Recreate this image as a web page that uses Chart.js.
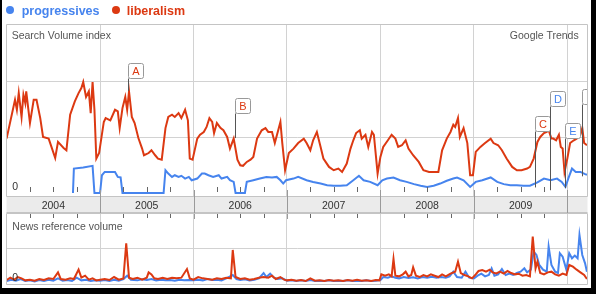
<!DOCTYPE html>
<html lang="en">
<head>
<meta charset="UTF-8">
<title>progressives vs liberalism - Google Trends</title>
<style>
    html, body {
        margin: 0;
        padding: 0;
        background: #fff;
    }
    body {
        position: relative;
        width: 596px;
        height: 294px;
        overflow: hidden;
        font-family: "Liberation Sans", Arial, sans-serif;
    }
    canvas {
        position: absolute;
        left: 0;
        top: 0;
    }
    .frame {
        position: absolute;
        left: 0;
        top: 0;
        width: 596px;
        height: 294px;
        box-sizing: border-box;
        border-left: 2px solid #000;
        border-right: 5px solid #000;
        border-bottom: 6px solid #000;
        z-index: 5;
    }
    .txt {
        position: absolute;
        line-height: 1;
        white-space: nowrap;
        z-index: 3;
    }
    .legend {
        font-size: 12.5px;
        font-weight: bold;
        top: 4.6px;
    }
    .dot {
        position: absolute;
        top: 6px;
        width: 8px;
        height: 8px;
        border-radius: 50%;
        z-index: 3;
    }
    .small {
        font-size: 10.5px;
        color: #555;
    }
</style>
<script src="https://cdn.jsdelivr.net/npm/chart.js"></script>
</head>
<body>
    <span class="dot" style="left:6.3px; background:#4684ee"></span>
    <span class="txt legend" style="left:21.7px; color:#4684ee">progressives</span>
    <span class="dot" style="left:112px; background:#dc3912"></span>
    <span class="txt legend" style="left:126.7px; color:#dc3912">liberalism</span>

    <span class="txt small" style="left:11.7px; top:30.3px">Search Volume index</span>
    <span class="txt small" style="right:17.3px; top:30.3px">Google Trends</span>
    <span class="txt small" style="left:12.3px; top:181.3px; color:#333">0</span>
    <span class="txt small" style="left:12.3px; top:220.6px">News reference volume</span>
    <span class="txt small" style="left:12.3px; top:272.3px; color:#333">0</span>

    <canvas id="searchChart" width="596" height="294"></canvas>
    <canvas id="newsChart" width="596" height="294"></canvas>
    <div class="frame"></div>

<script>
// ---- data (dates as decimal years) ----
const yearLabels = ['2004', '2005', '2006', '2007', '2008', '2009'];
const firstYear = 2004;
const lastDate = 2010.217;

// search volume index: liberalism
const libDates = [
    2004.00,2004.09,2004.11,2004.13,2004.16,2004.18,2004.20,2004.21,2004.25,2004.29,2004.32,2004.36,2004.39,2004.45,2004.48,2004.52,2004.55,2004.61,2004.64,2004.68,2004.73,2004.77,2004.80,2004.82,2004.85,2004.88,2004.90,2004.92,2004.94,2004.96,2004.99,
    2005.04,2005.06,2005.11,2005.16,2005.19,2005.21,2005.24,2005.27,2005.29,2005.31,2005.34,2005.37,2005.41,2005.45,2005.47,2005.52,2005.55,2005.59,2005.62,2005.66,2005.70,2005.73,2005.77,2005.80,2005.84,2005.87,2005.91,2005.94,2005.96,2005.99,
    2006.04,2006.07,2006.11,2006.14,2006.17,2006.20,2006.22,2006.25,2006.29,2006.32,2006.36,2006.39,2006.43,2006.47,2006.50,2006.53,2006.57,2006.61,2006.64,2006.68,2006.73,2006.77,2006.80,2006.84,2006.87,2006.93,2006.95,2006.98,
    2007.02,2007.07,2007.12,2007.18,2007.21,2007.25,2007.28,2007.32,2007.36,2007.39,2007.45,2007.50,2007.55,2007.59,2007.64,2007.68,2007.71,2007.74,2007.78,2007.80,2007.84,2007.87,2007.91,2007.93,2007.97,
    2008.00,2008.03,2008.08,2008.12,2008.16,2008.19,2008.23,2008.27,2008.30,2008.35,2008.41,2008.46,2008.52,2008.57,2008.62,2008.66,2008.71,2008.75,2008.78,2008.80,2008.83,2008.85,2008.89,2008.93,2008.96,2008.99,
    2009.02,2009.07,2009.12,2009.18,2009.21,2009.26,2009.30,2009.35,2009.41,2009.46,2009.51,2009.57,2009.60,2009.64,2009.68,2009.71,2009.75,2009.78,2009.80,2009.83,2009.85,2009.88,2009.91,2009.93,2009.95,2009.97,2010.00,2010.03,2010.07,2010.10,2010.14,2010.16,2010.18,2010.21
];
const libValues = [
    0.98,1.68,1.50,1.80,1.37,1.77,1.62,1.83,1.26,1.68,1.68,1.35,1.01,0.98,0.83,0.63,0.92,0.81,0.77,1.41,1.65,1.80,1.89,2.00,1.73,1.83,1.44,2.00,1.50,0.62,0.72,
    1.28,1.35,1.31,1.50,1.47,1.17,1.53,1.73,1.50,1.83,1.37,1.26,0.99,0.80,0.68,0.72,0.77,0.68,0.62,0.60,1.17,1.37,1.41,1.37,1.44,1.35,1.50,1.31,0.62,0.60,
    0.98,1.05,1.10,1.19,1.35,1.28,1.08,1.26,1.17,1.13,1.01,0.80,0.98,0.60,0.50,0.49,0.56,0.60,0.65,0.98,1.13,1.17,1.10,1.10,0.90,1.28,0.90,0.41,
    0.72,0.80,0.90,0.98,0.90,0.77,0.95,1.10,0.83,0.62,0.47,0.41,0.44,0.38,0.53,0.80,0.95,1.08,1.13,0.98,1.05,0.83,1.10,1.05,0.35,
    0.65,0.83,0.95,1.05,0.98,0.83,0.86,0.95,0.80,0.68,0.56,0.41,0.38,0.38,0.38,0.77,0.98,1.10,1.23,1.19,1.35,1.01,1.17,0.90,0.32,0.32,
    0.74,0.83,0.90,0.98,0.90,0.86,0.77,0.62,0.47,0.41,0.41,0.44,0.47,0.62,0.92,1.01,1.08,1.10,1.13,0.98,0.98,0.95,1.05,0.83,0.80,0.38,0.62,0.90,0.95,0.98,1.05,1.17,0.90,0.86
];

// search volume index: progressives (no data before autumn 2004)
const progDates = [
    2004.71,2004.72,2004.82,2004.92,2004.94,2005.00,2005.02,2005.05,2005.16,2005.19,2005.22,2005.24,2005.68,2005.70,2005.73,2005.77,2005.80,2005.84,2005.87,2005.91,2005.95,2005.98,
    2006.04,2006.09,2006.12,2006.16,2006.21,2006.27,2006.30,2006.36,2006.39,2006.43,2006.45,2006.55,2006.57,2006.64,2006.71,2006.78,2006.84,2006.89,2006.93,2006.96,2006.99,
    2007.07,2007.12,2007.21,2007.28,2007.36,2007.43,2007.50,2007.57,2007.64,2007.71,2007.77,2007.82,2007.89,2007.97,
    2008.02,2008.07,2008.14,2008.21,2008.28,2008.36,2008.43,2008.50,2008.57,2008.64,2008.71,2008.78,2008.82,2008.89,2008.96,
    2009.02,2009.09,2009.18,2009.25,2009.32,2009.39,2009.46,2009.53,2009.60,2009.68,2009.75,2009.82,2009.89,2009.94,2009.98,2010.01,2010.05,2010.09,2010.14,2010.19,2010.21
];
const progValues = [
    0,0.44,0.46,0.49,0,0,0.32,0.38,0.38,0.29,0.28,0,0,0.41,0.35,0.29,0.32,0.29,0.31,0.26,0.29,0.23,
    0.26,0.35,0.35,0.32,0.29,0.32,0.26,0.29,0.23,0.20,0,0,0.20,0.23,0.26,0.29,0.28,0.29,0.23,0.17,0.23,
    0.26,0.29,0.23,0.20,0.17,0.14,0.13,0.13,0.14,0.23,0.31,0.23,0.20,0.14,
    0.23,0.26,0.28,0.23,0.20,0.16,0.13,0.11,0.13,0.17,0.22,0.26,0.28,0.23,0.11,
    0.20,0.23,0.28,0.20,0.16,0.14,0.14,0.13,0.13,0.19,0.26,0.23,0.26,0.20,0.11,0.26,0.44,0.38,0.38,0.34,0.33
];

// news reference volume: liberalism
const libNewsDates = [
    2004.00,2004.04,2004.08,2004.12,2004.16,2004.20,2004.25,2004.30,2004.35,2004.40,2004.45,2004.50,2004.55,2004.58,2004.63,2004.68,2004.72,2004.77,2004.80,2004.84,2004.88,2004.92,2004.96,
    2005.00,2005.05,2005.10,2005.15,2005.20,2005.25,2005.28,2005.31,2005.35,2005.40,2005.45,2005.50,2005.52,2005.55,2005.58,2005.62,2005.67,2005.72,2005.77,2005.82,2005.87,2005.93,2005.96,
    2006.00,2006.05,2006.10,2006.15,2006.20,2006.25,2006.30,2006.35,2006.40,2006.42,2006.45,2006.50,2006.55,2006.60,2006.65,2006.70,2006.75,2006.80,2006.84,2006.88,2006.93,2006.97,
    2007.00,2007.05,2007.10,2007.15,2007.20,2007.25,2007.30,2007.35,2007.40,2007.45,2007.50,2007.55,2007.60,2007.65,2007.70,2007.75,2007.80,2007.85,2007.90,2007.95,2007.99,
    2008.01,2008.05,2008.09,2008.12,2008.14,2008.16,2008.20,2008.24,2008.27,2008.30,2008.33,2008.35,2008.38,2008.42,2008.46,2008.50,2008.54,2008.58,2008.62,2008.66,2008.70,2008.75,2008.80,2008.83,2008.86,2008.90,2008.94,2008.98,
    2009.02,2009.05,2009.09,2009.13,2009.17,2009.20,2009.24,2009.28,2009.32,2009.36,2009.40,2009.44,2009.48,2009.52,2009.56,2009.60,2009.63,2009.66,2009.68,2009.71,2009.75,2009.79,2009.83,2009.87,2009.91,2009.95,2009.99,2010.02,2010.06,2010.10,2010.14,2010.18,2010.21
];
const libNewsValues = [
    0.05,0.12,0.06,0.14,0.10,0.04,0.06,0.03,0.08,0.05,0.10,0.08,0.28,0.08,0.06,0.10,0.08,0.36,0.12,0.18,0.06,0.10,0.04,
    0.06,0.08,0.05,0.14,0.06,0.10,1.15,0.12,0.08,0.12,0.06,0.12,0.28,0.22,0.10,0.08,0.12,0.08,0.12,0.10,0.12,0.38,0.10,
    0.06,0.14,0.10,0.08,0.06,0.10,0.08,0.12,0.10,0.95,0.14,0.08,0.10,0.06,0.08,0.12,0.14,0.12,0.18,0.08,0.14,0.06,
    0.04,0.06,0.03,0.05,0.02,0.10,0.03,0.04,0.02,0.05,0.03,0.04,0.02,0.05,0.03,0.06,0.03,0.04,0.02,0.05,0.04,
    0.22,0.18,0.22,0.16,0.68,0.18,0.16,0.22,0.30,0.16,0.20,0.43,0.18,0.14,0.20,0.16,0.22,0.18,0.14,0.22,0.16,0.24,0.30,0.60,0.26,0.20,0.16,0.10,
    0.22,0.32,0.35,0.30,0.36,0.28,0.25,0.30,0.24,0.32,0.26,0.22,0.24,0.18,0.20,0.16,1.35,0.40,0.60,0.26,0.22,0.28,0.30,0.22,0.18,0.24,0.20,0.50,0.45,0.36,0.28,0.20,0.08
];

// news reference volume: progressives
const progNewsDates = [
    2004.00,2004.05,2004.10,2004.15,2004.20,2004.25,2004.30,2004.35,2004.40,2004.45,2004.50,2004.55,2004.60,2004.65,2004.70,2004.75,2004.80,2004.85,2004.90,2004.95,
    2005.00,2005.05,2005.10,2005.15,2005.20,2005.25,2005.29,2005.33,2005.40,2005.45,2005.50,2005.55,2005.60,2005.65,2005.70,2005.75,2005.80,2005.85,2005.90,2005.95,
    2006.00,2006.05,2006.10,2006.15,2006.20,2006.25,2006.30,2006.35,2006.42,2006.46,2006.50,2006.55,2006.60,2006.65,2006.70,2006.75,2006.78,2006.82,2006.86,2006.90,2006.95,
    2007.00,2007.05,2007.10,2007.15,2007.20,2007.25,2007.30,2007.35,2007.40,2007.45,2007.50,2007.55,2007.60,2007.65,2007.70,2007.75,2007.80,2007.85,2007.90,2007.95,
    2008.00,2008.03,2008.08,2008.12,2008.16,2008.20,2008.25,2008.30,2008.35,2008.40,2008.45,2008.50,2008.55,2008.60,2008.65,2008.70,2008.74,2008.78,2008.82,2008.87,2008.91,2008.95,
    2009.00,2009.04,2009.08,2009.12,2009.16,2009.19,2009.22,2009.26,2009.30,2009.34,2009.38,2009.42,2009.46,2009.50,2009.54,2009.57,2009.61,2009.64,2009.67,2009.70,2009.74,2009.78,2009.80,2009.83,2009.87,2009.90,2009.92,2009.95,2009.99,2010.02,2010.05,2010.08,2010.11,2010.13,2010.16,2010.19,2010.21
];
const progNewsValues = [
    0.02,0.06,0.03,0.08,0.02,0.04,0.01,0.05,0.02,0.06,0.03,0.10,0.03,0.05,0.02,0.12,0.04,0.06,0.02,0.04,
    0.03,0.05,0.02,0.06,0.03,0.08,0.18,0.06,0.04,0.07,0.05,0.08,0.04,0.06,0.04,0.05,0.03,0.06,0.04,0.05,
    0.04,0.06,0.04,0.08,0.05,0.06,0.04,0.10,0.20,0.08,0.05,0.07,0.04,0.06,0.10,0.26,0.14,0.24,0.12,0.08,0.10,
    0.03,0.04,0.02,0.04,0.02,0.05,0.02,0.03,0.02,0.04,0.02,0.03,0.02,0.04,0.02,0.03,0.02,0.04,0.02,0.03,
    0.05,0.14,0.12,0.16,0.12,0.10,0.14,0.11,0.13,0.10,0.14,0.12,0.15,0.12,0.14,0.12,0.16,0.30,0.14,0.12,0.30,0.12,
    0.10,0.18,0.24,0.16,0.20,0.40,0.18,0.22,0.38,0.20,0.24,0.20,0.26,0.30,0.40,0.28,0.36,0.90,0.80,0.50,0.36,0.30,1.05,0.50,0.30,0.26,0.85,0.75,0.36,0.85,0.70,0.78,0.70,1.40,0.80,0.55,0.30
];

// annotations A-F
const markerLabels = ['A', 'B', 'C', 'D', 'E', 'F'];
const markerDates = [2005.30, 2006.44, 2009.65, 2009.81, 2009.97, 2010.16];
const markerSeries = ['liberalism', 'liberalism', 'liberalism', 'progressives', 'progressives', 'progressives'];
const markerTops = [2.34, 1.72, 1.39, 1.83, 1.26, 1.87];
const markerEnds = [1.84, 0.99, 0.10, 0.05, 0.09, 0.30];

const seriesColor = { progressives: '#4684ee', liberalism: '#dc3912' };
const GRID = '#d2d2d2';
const FONT = '"Liberation Sans", Arial, sans-serif';

function toPoints(dates, values) {
    return dates.map((d, i) => ({ x: d, y: values[i] }));
}

function lineSet(label, points, order) {
    return {
        label: label,
        data: points,
        borderColor: seriesColor[label],
        borderWidth: 2,
        pointRadius: 0,
        tension: 0,
        fill: false,
        order: order
    };
}

function xScale() {
    return {
        type: 'linear',
        min: firstYear,
        max: lastDate,
        afterBuildTicks: s => { s.ticks = [2005, 2006, 2007, 2008, 2009, 2010].map(v => ({ value: v })); },
        ticks: { display: false },
        grid: { color: GRID, drawTicks: false },
        border: { display: false }
    };
}

function yScale(min, max, lines) {
    return {
        min: min,
        max: max,
        afterBuildTicks: s => { s.ticks = lines.map(v => ({ value: v })); },
        ticks: { display: false },
        grid: { color: GRID, drawTicks: false },
        border: { display: false }
    };
}

// box, year band, quarter ticks, annotation flags
const trendsFrame = {
    id: 'trendsFrame',
    afterDatasetsDraw(chart, args, opts) {
        if (!opts.markers) return;
        const ctx = chart.ctx, a = chart.chartArea;
        const xs = chart.scales.x, ys = chart.scales.y;
        ctx.save();
        ctx.beginPath();
        ctx.rect(a.left, a.top, a.right - a.left, a.bottom - a.top);
        ctx.clip();
        markerLabels.forEach((lab, i) => {
            const x = Math.round(xs.getPixelForValue(markerDates[i])) + 0.5;
            const top = Math.round(ys.getPixelForValue(markerTops[i])) + 0.5;
            const end = ys.getPixelForValue(markerEnds[i]);
            const w = 15, h = 15;
            ctx.strokeStyle = '#555';
            ctx.lineWidth = 1;
            ctx.beginPath();
            ctx.moveTo(x, top + h);
            ctx.lineTo(x, end);
            ctx.stroke();
            ctx.fillStyle = '#fff';
            ctx.strokeStyle = '#999';
            ctx.beginPath();
            ctx.roundRect(x, top, w, h, 2);
            ctx.fill();
            ctx.stroke();
            ctx.fillStyle = seriesColor[markerSeries[i]];
            ctx.font = '11px ' + FONT;
            ctx.textAlign = 'center';
            ctx.textBaseline = 'middle';
            ctx.fillText(lab, x + w / 2, top + h / 2 + 1);
        });
        ctx.restore();
    },
    afterDraw(chart, args, opts) {
        const ctx = chart.ctx, a = chart.chartArea, xs = chart.scales.x;
        const L = Math.floor(a.left) + 0.5, R = Math.floor(a.right) + 0.5;
        const T = Math.floor(a.top) + 0.5, B = Math.floor(a.bottom) + 0.5;
        ctx.save();
        ctx.lineWidth = 1;

        if (opts.band) {
            const bTop = Math.floor(a.bottom), bBot = bTop + 17;
            ctx.fillStyle = '#ebebeb';
            ctx.fillRect(L, bTop, R - L, bBot - bTop);
            ctx.strokeStyle = '#c4c4c4';
            ctx.beginPath();
            ctx.moveTo(L, bTop + 0.5); ctx.lineTo(R, bTop + 0.5);
            ctx.moveTo(L, bBot - 0.5); ctx.lineTo(R, bBot - 0.5);
            ctx.stroke();
            // year separators
            ctx.strokeStyle = '#9a9a9a';
            ctx.beginPath();
            for (let y = firstYear + 1; y <= 2010; y++) {
                const x = Math.round(xs.getPixelForValue(y)) + 0.5;
                ctx.moveTo(x, a.bottom - 6); ctx.lineTo(x, bBot + 6);
            }
            ctx.stroke();
            // year labels
            ctx.fillStyle = '#333';
            ctx.font = '10.5px ' + FONT;
            ctx.textAlign = 'center';
            ctx.textBaseline = 'alphabetic';
            yearLabels.forEach((lab, i) => {
                ctx.fillText(lab, xs.getPixelForValue(firstYear + i + 0.5), bTop + 12.5);
            });
            // quarter ticks above and below the band
            ctx.strokeStyle = '#666';
            ctx.beginPath();
            for (let y = firstYear; y <= 2010; y++) {
                for (let q = 1; q <= 3; q++) {
                    const v = y + q / 4;
                    if (v >= lastDate) continue;
                    const x = Math.round(xs.getPixelForValue(v)) + 0.5;
                    ctx.moveTo(x, bTop - 9); ctx.lineTo(x, bTop - 4);
                    ctx.moveTo(x, bBot); ctx.lineTo(x, bBot + 5);
                }
            }
            ctx.stroke();
        }

        // box outline
        ctx.strokeStyle = '#c4c4c4';
        ctx.beginPath();
        ctx.moveTo(L, opts.band ? B : T); ctx.lineTo(L, T);
        ctx.moveTo(L, T); ctx.lineTo(R, T);
        ctx.moveTo(R, T); ctx.lineTo(R, opts.band ? B : B);
        if (!opts.band) { ctx.moveTo(L, B); ctx.lineTo(R, B); ctx.moveTo(L, B); ctx.lineTo(L, T); }
        ctx.stroke();
        ctx.restore();
    }
};

function makeChart(id, datasets, padding, yMin, yMax, yLines, frameOpts) {
    return new Chart(document.getElementById(id), {
        type: 'line',
        data: { datasets: datasets },
        options: {
            responsive: false,
            animation: false,
            devicePixelRatio: 1,
            parsing: false,
            layout: { padding: padding },
            plugins: {
                legend: { display: false },
                tooltip: { enabled: false },
                trendsFrame: frameOpts
            },
            scales: {
                x: xScale(),
                y: yScale(yMin, yMax, yLines)
            }
        },
        plugins: [trendsFrame]
    });
}

makeChart('searchChart', [
    lineSet('progressives', toPoints(progDates, progValues), 1),
    lineSet('liberalism', toPoints(libDates, libValues), 0)
], { left: 6.6, right: 8.4, top: 24, bottom: 98 }, -0.054, 3.045, [1, 2], { band: true, markers: true });

makeChart('newsChart', [
    lineSet('progressives', toPoints(progNewsDates, progNewsValues), 1),
    lineSet('liberalism', toPoints(libNewsDates, libNewsValues), 0)
], { left: 6.6, right: 8.4, top: 213, bottom: 10 }, -0.069, 2.057, [1], { band: false, markers: false });
</script>
</body>
</html>
